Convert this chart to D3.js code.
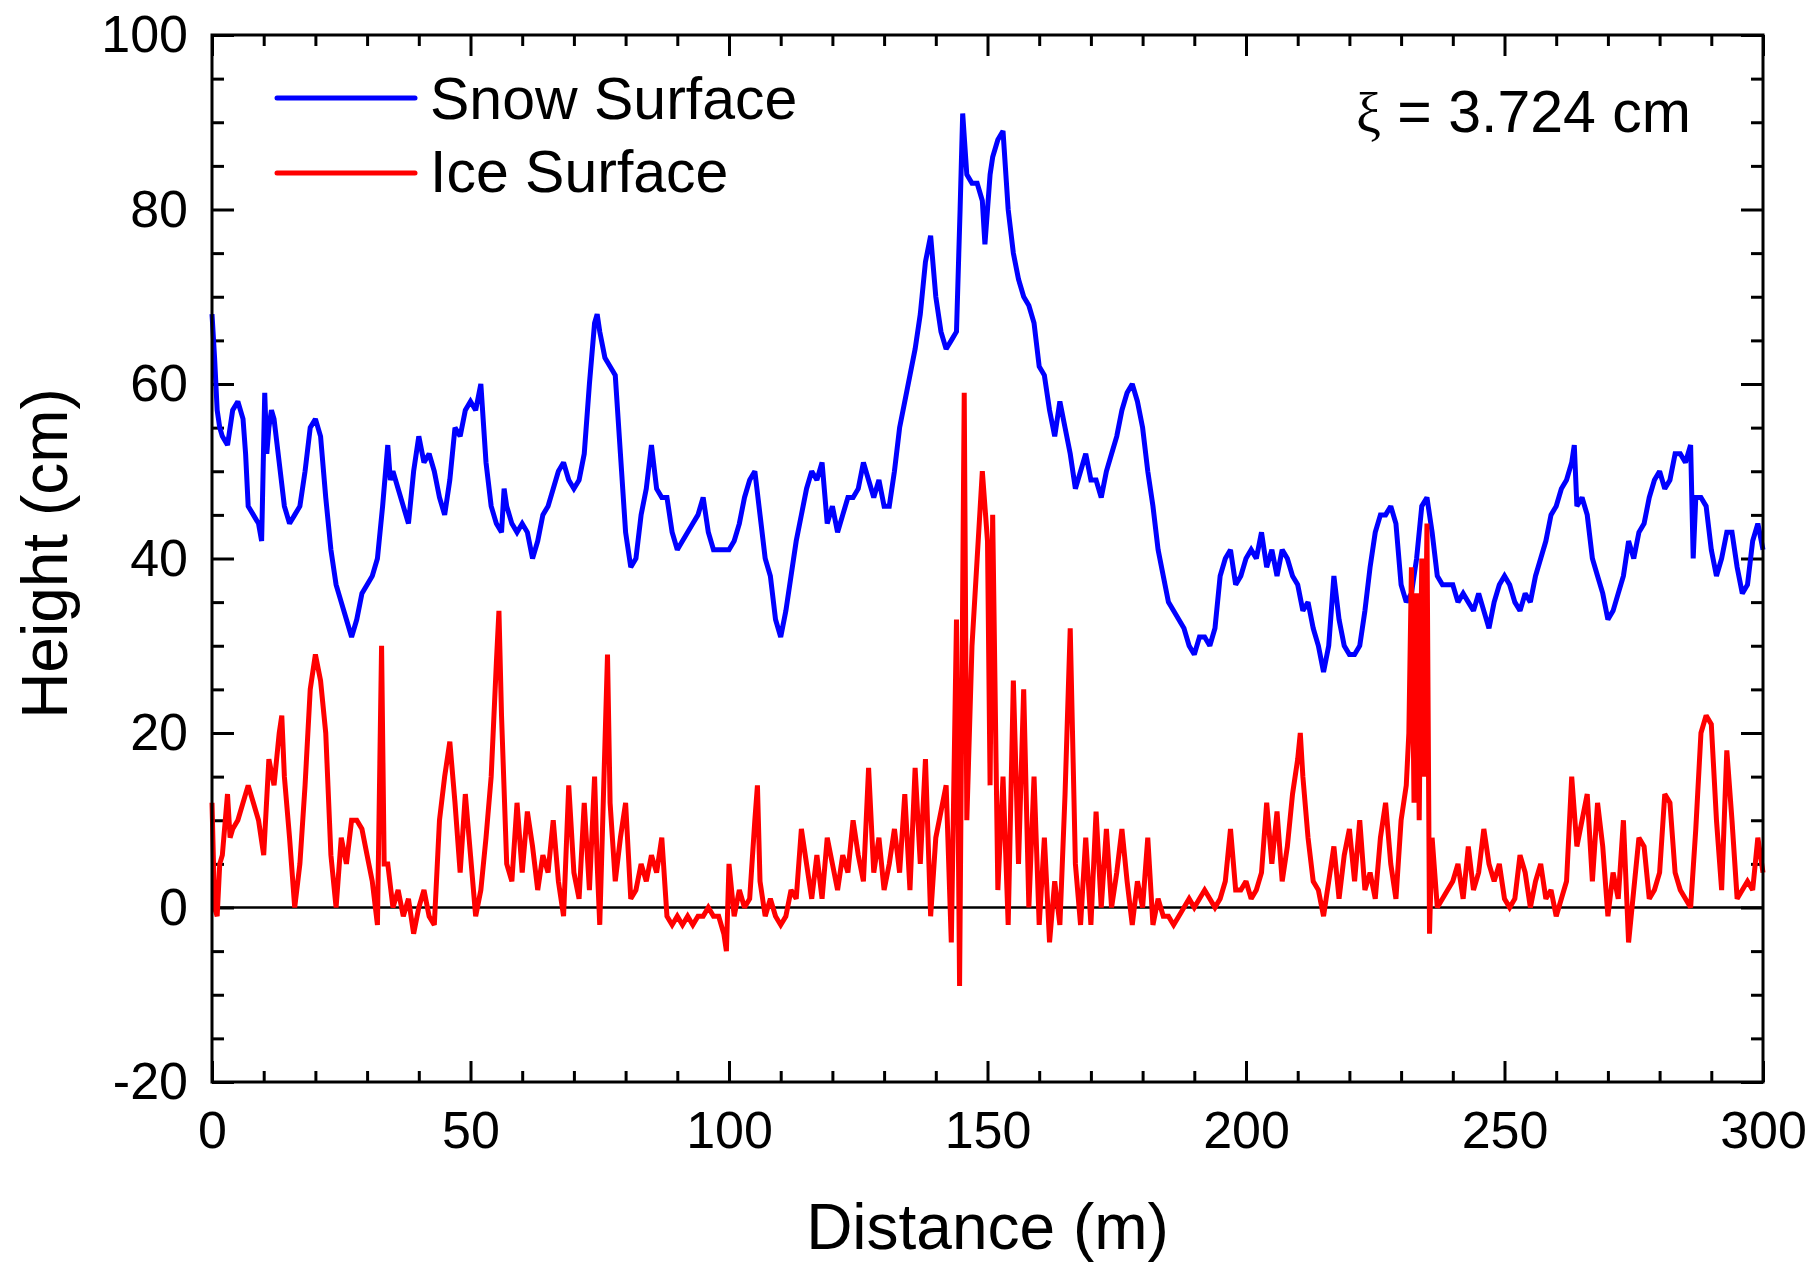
<!DOCTYPE html>
<html>
<head>
<meta charset="utf-8">
<script src="https://cdn.jsdelivr.net/npm/d3@7"></script>
<style>
  body { margin: 0; background: #fff; }
  text { font-family: 'Liberation Sans', Arial, sans-serif; fill: #000; }
</style>
</head>
<body>
<svg id="chart" width="1814" height="1264"></svg>
<script>
// profile along the transect: distance (m) and height (cm)
const snowDistance = [0,0.5,1,1.5,2,3,4,5,6,6.5,7,8,9,9.6,10.2,10.6,11,11.5,12,13,14,15,16,17,18,19,20,21,22,23,24,25,26,27,28,29,30,31,32,33,34,34.5,35,36,37,38,39,40,41,42,43,44,45,46,47,48,49,50,51,52,53,54,55,56,56.5,57,58,59,60,61,62,63,64,65,66,67,68,69,70,71,72,73,74,74.5,75,76,77,78,79,80,81,82,83,84,85,86,87,88,89,90,91,92,93,94,95,96,97,98,99,100,101,102,103,104,105,106,107,108,109,110,111,112,113,114,115,116,117,118,119,120,121,122,123,124,125,126,127,128,129,130,131,132,133,134,135,136,137,138,139,140,141,142,143,144,144.7,145.2,146,147,148,149,149.5,150.5,151,152,153,154,155,156,157,158,159,160,161,162,163,164,165,166,167,168,169,170,171,172,173,174,175,176,177,178,179,180,181,182,183,184,185,186,187,188,189,190,191,192,193,194,195,196,197,198,199,200,201,202,203,204,205,206,207,208,209,210,211,212,213,214,215,216,217,218,219,220,221,222,223,224,225,226,227,228,229,230,231,232,233,234,235,236,237,238,239,240,241,242,243,244,245,246,247,248,249,250,251,252,253,254,255,256,257,258,259,260,261,262,263,263.5,264,265,266,267,268,269,270,271,272,273,274,275,276,277,278,279,280,281,282,283,284,285,286,286.5,287,288,289,290,291,292,293,294,295,296,297,298,299,300];
const snowHeight = [68,63,57,55,54,53,57,58,56,52,46,45,44,42,59,52,55,57,56,51,46,44,45,46,50,55,56,54,47,41,37,35,33,31,33,36,37,38,40,46,53,49,50,48,46,44,50,54,51,52,50,47,45,49,55,54,57,58,57,60,51,46,44,43,48,46,44,43,44,43,40,42,45,46,48,50,51,49,48,49,52,60,67,68,66,63,62,61,52,43,39,40,45,48,53,48,47,47,43,41,42,43,44,45,47,43,41,41,41,41,42,44,47,49,50,45,40,38,33,31,34,38,42,45,48,50,49,51,44,46,43,45,47,47,48,51,49,47,49,46,46,50,55,58,61,64,68,74,77,70,66,64,65,66,80,91,84,83,83,81,76,84,86,88,89,80,75,72,70,69,67,62,61,57,54,58,55,52,48,50,52,49,49,47,50,52,54,57,59,60,58,55,50,46,41,38,35,34,33,32,30,29,31,31,30,32,38,40,41,37,38,40,41,40,43,39,41,38,41,40,38,37,34,35,32,30,27,30,38,33,30,29,29,30,34,39,43,45,45,46,44,37,35,36,40,46,47,43,38,37,37,37,35,36,35,34,36,34,32,35,37,38,37,35,34,36,35,38,40,42,45,46,48,49,51,53,46,47,45,40,38,36,33,34,36,38,42,40,43,44,47,49,50,48,49,52,52,51,53,40,47,47,46,41,38,40,43,43,39,36,37,42,44,41];

const iceDistance = [0,0.5,1,1.5,2,3,3.5,4,5,6,7,8,9,10,11,12,13,13.5,14,15,16,17,18,19,20,21,22,23,24,25,26,27,28,29,30,31,32,32.8,33.3,34,35,36,37,38,39,40,41,42,43,44,45,46,47,48,49,50,51,52,53,54,55,55.5,56,57,58,59,60,61,62,63,64,65,66,67,68,69,70,71,72,73,74,74.5,75,76.5,77,78,79,80,81,82,83,84,85,86,87,88,89,90,91,92,93,94,95,96,97,98,99,99.5,100,101,102,103,104,105,105.5,106,107,108,109,110,111,112,113,114,115,116,117,118,119,120,121,122,123,124,125,126,127,128,129,130,131,132,133,134,135,136,137,138,139,140,141,142,143,144,144.6,145.5,146,147,148,149,150,150.5,151,152,153,154,155,156,157,158,159,160,161,162,163,164,165,166,167,168,169,170,171,172,173,174,175,176,177,178,179,180,181,182,183,184,185,186,187,188,189,190,191,192,193,194,195,196,197,198,199,200,201,202,203,204,205,206,207,208,209,210,210.5,211,212,213,214,215,216,217,218,219,220,221,222,223,224,225,226,227,228,229,230,231,231.5,232,232.5,233,233.5,234,234.5,235,235.5,236,237,238,239,240,241,242,243,244,245,246,247,248,249,250,251,252,253,254,255,256,257,258,259,260,261,262,263,264,265,266,267,268,269,270,271,272,273,274,275,276,277,278,279,280,281,282,283,284,285,286,287,288,289,290,291,292,293,294,295,296,297,298,299,300];
const iceHeight = [12,0,-1,5,6,13,8,9,10,12,14,12,10,6,17,14,20,22,15,8,0,5,14,25,29,26,20,6,0,8,5,10,10,9,6,3,-2,30,5,5,0,2,-1,1,-3,0,2,-1,-2,10,15,19,12,4,13,6,-1,2,8,15,28,34,22,5,3,12,4,11,7,2,6,4,10,3,-1,14,4,1,12,2,15,5,-2,29,12,3,8,12,1,2,5,3,6,4,8,-1,-2,-1,-2,-1,-2,-1,-1,0,-1,-1,-3,-5,5,-1,2,0,1,10,14,3,-1,1,-1,-2,-1,2,1,9,5,1,6,1,8,5,2,6,4,10,6,3,16,4,8,2,5,9,4,13,2,16,5,17,-1,8,11,14,-4,33,-9,59,10,30,40,50,42,14,45,2,15,-2,26,5,25,0,15,-2,8,-4,3,-2,13,32,5,-2,8,-2,11,0,9,0,4,9,3,-2,3,0,8,-2,1,-1,-1,-2,-1,0,1,0,1,2,1,0,1,3,9,2,2,3,1,2,4,12,5,11,3,7,13,17,20,15,8,3,2,-1,3,7,1,6,9,3,10,2,4,1,8,12,5,1,10,14,20,39,12,36,10,40,15,44,-3,8,0,1,2,3,5,1,7,2,4,9,5,3,5,1,0,1,6,4,0,3,5,1,2,-1,1,3,15,7,10,13,3,12,7,-1,4,1,10,-4,2,8,7,1,2,4,13,12,4,2,1,0,9,20,22,21,10,2,18,10,1,2,3,2,8,4];

const seriesNames = ['Snow Surface', 'Ice Surface'];
const seriesColors = ['#0000ff', '#ff0000'];
const xTicks = [0, 50, 100, 150, 200, 250, 300];
const yTicks = [-20, 0, 20, 40, 60, 80, 100];
const annotation = '3.724 cm';

const svg = d3.select('#chart');
const width = +svg.attr('width');
const height = +svg.attr('height');
const margin = {top: 35, right: 51, bottom: 182, left: 212};
const innerWidth = width - margin.left - margin.right;
const innerHeight = height - margin.top - margin.bottom;

svg.append('rect').attr('width', width).attr('height', height).attr('fill', '#fff');

const xScale = d3.scaleLinear().domain([0, 300]).range([0, innerWidth]);
const yScale = d3.scaleLinear().domain([-20, 100]).range([innerHeight, 0]);

const g = svg.append('g')
  .attr('transform', `translate(${margin.left},${margin.top})`);

// minor ticks every 10 m / 5 cm
const xMinor = d3.range(0, 301, 10).filter(d => d % 50 !== 0);
const yMinor = d3.range(-20, 101, 5).filter(d => d % 20 !== 0);

function styleAxis(sel) {
  sel.select('.domain').remove();
  sel.selectAll('.tick line').attr('stroke', '#000').attr('stroke-width', 3);
  sel.selectAll('.tick text').style('font-size', '52px').attr('fill', '#000');
}
// axes without labels: drop the empty text nodes
function ticksOnly(sel) {
  styleAxis(sel);
  sel.selectAll('.tick text').remove();
}

// bottom
g.append('g').attr('transform', `translate(0,${innerHeight})`)
  .call(d3.axisBottom(xScale).tickValues(xTicks).tickSize(-21).tickPadding(29).tickFormat(d => String(d)))
  .call(styleAxis);
g.append('g').attr('transform', `translate(0,${innerHeight})`)
  .call(d3.axisBottom(xScale).tickValues(xMinor).tickSize(-11))
  .call(ticksOnly);
// top (mirrored)
g.append('g')
  .call(d3.axisTop(xScale).tickValues(xTicks).tickSize(-21))
  .call(ticksOnly);
g.append('g')
  .call(d3.axisTop(xScale).tickValues(xMinor).tickSize(-11))
  .call(ticksOnly);
// left
g.append('g')
  .call(d3.axisLeft(yScale).tickValues(yTicks).tickSize(-22).tickPadding(24).tickFormat(d => String(d)))
  .call(styleAxis);
g.append('g')
  .call(d3.axisLeft(yScale).tickValues(yMinor).tickSize(-12))
  .call(ticksOnly);
// right (mirrored)
g.append('g').attr('transform', `translate(${innerWidth},0)`)
  .call(d3.axisRight(yScale).tickValues(yTicks).tickSize(-22))
  .call(ticksOnly);
g.append('g').attr('transform', `translate(${innerWidth},0)`)
  .call(d3.axisRight(yScale).tickValues(yMinor).tickSize(-12))
  .call(ticksOnly);

// zero line
g.append('line')
  .attr('x1', 0).attr('x2', innerWidth)
  .attr('y1', yScale(0)).attr('y2', yScale(0))
  .attr('stroke', '#000').attr('stroke-width', 2.5);

const line = d3.line()
  .x(d => xScale(d[0]))
  .y(d => yScale(d[1]));

const series = [
  d3.zip(snowDistance, snowHeight),
  d3.zip(iceDistance, iceHeight)
];

g.selectAll('path.series').data(series)
  .enter().append('path')
    .attr('class', 'series')
    .attr('d', line)
    .attr('fill', 'none')
    .attr('stroke', (d, i) => seriesColors[i])
    .attr('stroke-width', 5)
    .attr('stroke-linejoin', 'miter')
    .attr('stroke-miterlimit', 2);

// frame
g.append('rect')
  .attr('width', innerWidth).attr('height', innerHeight)
  .attr('fill', 'none').attr('stroke', '#000').attr('stroke-width', 3);

// legend
const legend = svg.append('g');
legend.selectAll('line').data(seriesNames)
  .enter().append('line')
    .attr('x1', 277).attr('x2', 415)
    .attr('y1', (d, i) => 98 + i * 75).attr('y2', (d, i) => 98 + i * 75)
    .attr('stroke', (d, i) => seriesColors[i])
    .attr('stroke-width', 5)
    .attr('stroke-linecap', 'round');
legend.selectAll('text').data(seriesNames)
  .enter().append('text')
    .attr('x', 430)
    .attr('y', (d, i) => 119 + i * 73)
    .style('font-size', '59px')
    .text(d => d);

// correlation length label
const note = svg.append('text')
  .attr('x', 1356).attr('y', 132)
  .style('font-size', '59px');
note.append('tspan')
  .style('font-family', "'Liberation Serif', 'Times New Roman', serif")
  .style('font-size', '56px')
  .text('\u03BE');
note.append('tspan').text(' = ' + annotation);

// axis titles
svg.append('text')
  .attr('x', margin.left + innerWidth / 2).attr('y', 1249)
  .attr('text-anchor', 'middle')
  .style('font-size', '64px')
  .text('Distance (m)');
svg.append('text')
  .attr('transform', `translate(67,${margin.top + innerHeight / 2 - 5}) rotate(-90)`)
  .attr('text-anchor', 'middle')
  .style('font-size', '64px')
  .text('Height (cm)');
</script>
</body>
</html>
